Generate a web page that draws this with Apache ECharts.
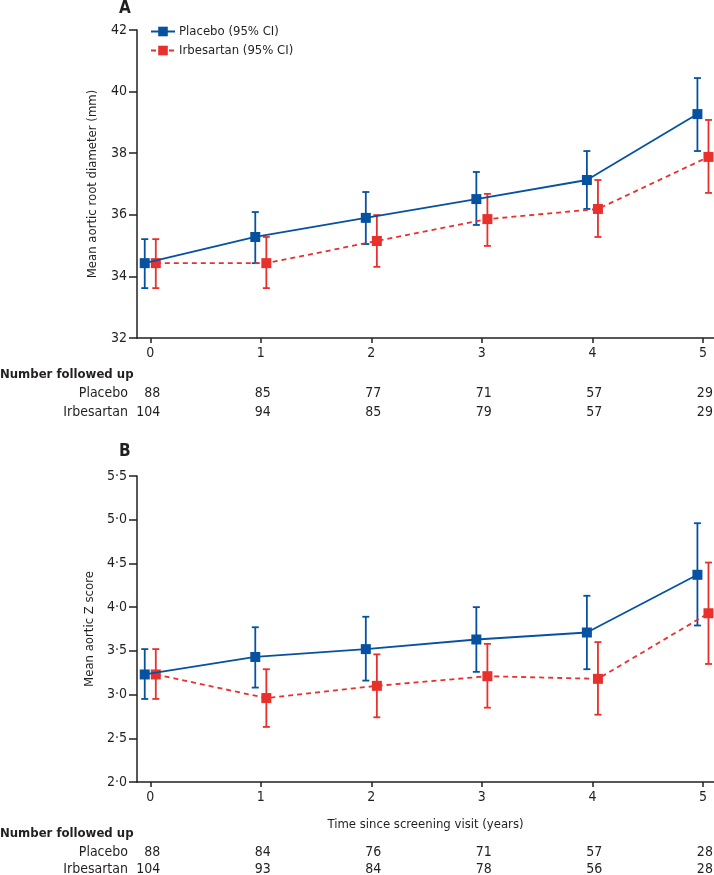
<!DOCTYPE html>
<html><head><meta charset="utf-8">
<script src="https://cdn.jsdelivr.net/npm/echarts@6/dist/echarts.min.js"></script>
<style>html,body{margin:0;padding:0;background:#fff}#c{width:714px;height:875px}</style>
</head><body><div id="c"></div>
<script>
// ---- data ----
const years = [0, 1, 2, 3, 4, 5];
const yearLabels = ['0', '1', '2', '3', '4', '5'];
const placeboRootMean = [34.43, 35.28, 35.90, 36.51, 37.13, 39.27];
const placeboRootLow  = [33.62, 34.43, 35.05, 35.67, 36.19, 38.07];
const placeboRootHigh = [35.21, 36.09, 36.74, 37.39, 38.07, 40.44];
const irbRootMean = [34.43, 34.43, 35.15, 35.86, 36.19, 37.88];
const irbRootLow  = [33.62, 33.62, 34.31, 34.99, 35.28, 36.71];
const irbRootHigh = [35.21, 35.28, 35.99, 36.68, 37.13, 39.08];
const placeboZMean = [3.23, 3.43, 3.52, 3.63, 3.71, 4.37];
const placeboZLow  = [2.95, 3.08, 3.16, 3.26, 3.29, 3.79];
const placeboZHigh = [3.52, 3.77, 3.89, 4.00, 4.13, 4.96];
const irbZMean = [3.23, 2.96, 3.10, 3.21, 3.18, 3.93];
const irbZLow  = [2.95, 2.63, 2.74, 2.85, 2.77, 3.35];
const irbZHigh = [3.52, 3.29, 3.46, 3.58, 3.60, 4.51];
const placeboCountA = [88, 85, 77, 71, 57, 29];
const irbCountA     = [104, 94, 85, 79, 57, 29];
const placeboCountB = [88, 84, 76, 71, 57, 28];
const irbCountB     = [104, 93, 84, 78, 56, 28];
const seriesNames = ['Placebo (95% CI)', 'Irbesartan (95% CI)'];
const rowNames = ['Placebo', 'Irbesartan'];

// ---- styling ----
const FONT = "'Liberation Sans Narrow', 'DejaVu Sans Condensed', 'Liberation Sans', sans-serif";
const INK = '#231f20';
const BLUE = '#0652a0';
const RED = '#e8302c';
const DODGE = 0.05;
const XMIN = -0.12, XMAX = 5.1;
const COUNT_SHIFT = 0.09; // count columns sit right-aligned just right of each tick

const chart = echarts.init(document.getElementById('c'), null, {renderer: 'canvas'});

function pts(mean, off) { return years.map((y, i) => [y + off, mean[i]]); }
function bars(lo, hi, off) { return years.map((y, i) => [y + off, lo[i], hi[i]]); }

function errRender(color) {
  return function (params, api) {
    const x = api.value(0), lo = api.value(1), hi = api.value(2);
    const p1 = api.coord([x, lo]), p2 = api.coord([x, hi]);
    const w = 3.5;
    const style = {stroke: color, lineWidth: 1.8, fill: null};
    return {type: 'group', children: [
      {type: 'line', shape: {x1: p1[0], y1: p1[1], x2: p2[0], y2: p2[1]}, style},
      {type: 'line', shape: {x1: p1[0] - w, y1: p1[1], x2: p1[0] + w, y2: p1[1]}, style},
      {type: 'line', shape: {x1: p2[0] - w, y1: p2[1], x2: p2[0] + w, y2: p2[1]}, style}
    ]};
  };
}

const grids = [
  {left: 137, right: 0, top: 30, height: 308, containLabel: false, outerBoundsMode: 'none'},
  {left: 137, right: 0, top: 476, height: 306, containLabel: false, outerBoundsMode: 'none'}
];

function mainX(gi, name) {
  return {
    type: 'value', gridIndex: gi, min: XMIN, max: XMAX, position: 'bottom',
    name: name || '', nameLocation: 'middle', nameGap: 36,
    nameTextStyle: {fontFamily: FONT, fontSize: 13, color: INK},
    axisLine: {show: true, onZero: false, lineStyle: {color: INK, width: 1.5}},
    axisTick: {show: true, length: 5, lineStyle: {color: INK, width: 1.5}, customValues: years},
    axisLabel: {fontFamily: FONT, fontSize: 14, color: INK, margin: 8, customValues: years,
      formatter: v => yearLabels[years.indexOf(Math.round(v))]},
    splitLine: {show: false}
  };
}
function countX(gi, counts, offset) {
  return {
    type: 'value', gridIndex: gi, min: XMIN - COUNT_SHIFT, max: XMAX - COUNT_SHIFT,
    position: 'bottom', offset: offset,
    axisLine: {show: false}, axisTick: {show: false}, splitLine: {show: false},
    axisLabel: {fontFamily: FONT, fontSize: 14, color: INK, margin: 0, align: 'right',
      customValues: years,
      formatter: v => String(counts[years.indexOf(Math.round(v))])}
  };
}
function yAx(gi, min, max, interval, name, fmt) {
  return {
    type: 'value', gridIndex: gi, min, max, interval,
    name, nameLocation: 'middle', nameGap: 38,
    nameTextStyle: {fontFamily: FONT, fontSize: 13, color: INK},
    axisLine: {show: true, onZero: false, lineStyle: {color: INK, width: 1.5}},
    axisTick: {show: true, length: 8, lineStyle: {color: INK, width: 1.5}},
    axisLabel: {fontFamily: FONT, fontSize: 14, color: INK, margin: 10, formatter: fmt},
    splitLine: {show: false}
  };
}

function lineSeries(name, xi, yi, data, color, dashed, z) {
  return {
    type: 'line', name, xAxisIndex: xi, yAxisIndex: yi, data,
    symbol: 'rect', symbolSize: 10, showSymbol: true, z,
    itemStyle: {color},
    lineStyle: {color, width: 1.8, type: dashed ? [5, 4] : 'solid'},
    emphasis: {disabled: true}, animation: false
  };
}
function errSeries(xi, yi, data, color, z) {
  return {
    type: 'custom', xAxisIndex: xi, yAxisIndex: yi, data, z,
    encode: {x: 0, y: [1, 2]}, renderItem: errRender(color), animation: false, silent: true
  };
}

const headText = (y) => ({type: 'text', left: 0, top: y,
  style: {text: 'Number followed up', font: 'bold 13px ' + FONT, fill: INK}});
const rowText = (t, y) => ({type: 'text', right: 586, top: y,
  style: {text: t, font: '14px ' + FONT, fill: INK}});

const option = {
  backgroundColor: '#fff',
  animation: false,
  grid: grids,
  xAxis: [
    mainX(0), countX(0, placeboCountA, 48), countX(0, irbCountA, 67),
    mainX(1, 'Time since screening visit (years)'), countX(1, placeboCountB, 63), countX(1, irbCountB, 80)
  ],
  yAxis: [
    yAx(0, 32, 42, 2, 'Mean aortic root diameter (mm)', v => String(v)),
    yAx(1, 2, 5.5, 0.5, 'Mean aortic Z score', v => v.toFixed(1).replace('.', '\u00b7'))
  ],
  legend: {
    left: 150, top: 25, padding: 0, orient: 'vertical', itemWidth: 24, itemHeight: 12, itemGap: 6,
    data: seriesNames, selectedMode: false,
    textStyle: {fontFamily: FONT, fontSize: 13, color: INK, padding: [0, 0, 0, -1]}
  },
  series: [
    errSeries(0, 0, bars(irbRootLow, irbRootHigh, DODGE), RED, 1),
    errSeries(0, 0, bars(placeboRootLow, placeboRootHigh, -DODGE), BLUE, 2),
    lineSeries(seriesNames[1], 0, 0, pts(irbRootMean, DODGE), RED, true, 3),
    lineSeries(seriesNames[0], 0, 0, pts(placeboRootMean, -DODGE), BLUE, false, 4),
    errSeries(3, 1, bars(irbZLow, irbZHigh, DODGE), RED, 1),
    errSeries(3, 1, bars(placeboZLow, placeboZHigh, -DODGE), BLUE, 2),
    lineSeries(seriesNames[1], 3, 1, pts(irbZMean, DODGE), RED, true, 3),
    lineSeries(seriesNames[0], 3, 1, pts(placeboZMean, -DODGE), BLUE, false, 4)
  ],
  graphic: [
    {type: 'text', left: 119, top: 0, style: {text: 'A', font: 'bold 17px ' + FONT, fill: INK}},
    {type: 'text', left: 119, top: 443, style: {text: 'B', font: 'bold 17px ' + FONT, fill: INK}},
    headText(368),
    rowText(rowNames[0], 386),
    rowText(rowNames[1], 405),
    headText(827),
    rowText(rowNames[0], 845),
    rowText(rowNames[1], 862)
  ]
};
chart.setOption(option);
</script></body></html>
